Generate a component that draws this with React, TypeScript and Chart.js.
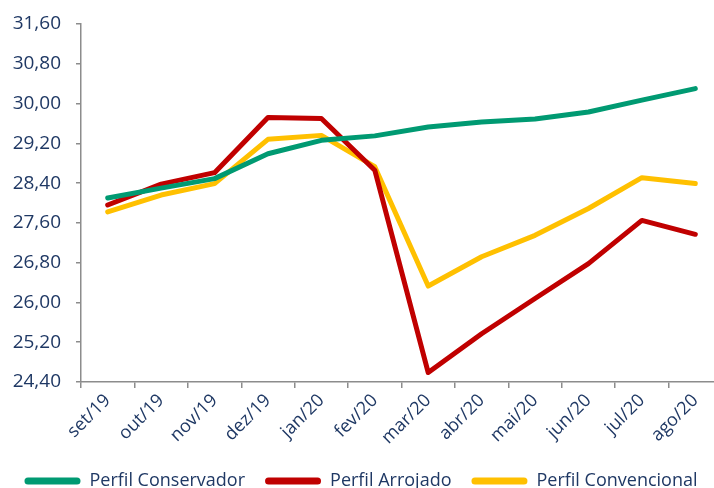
import React, { useEffect, useRef } from "react";
import { Chart, registerables } from "chart.js";

Chart.register(...registerables);

const categories = ["set/19", "out/19", "nov/19", "dez/19", "jan/20", "fev/20", "mar/20", "abr/20", "mai/20", "jun/20", "jul/20", "ago/20"];
const conservador = [28.10, 28.30, 28.49, 28.99, 29.26, 29.35, 29.53, 29.63, 29.69, 29.83, 30.07, 30.30];
const arrojado = [27.96, 28.38, 28.61, 29.72, 29.70, 28.66, 24.59, 25.37, 26.08, 26.78, 27.65, 27.37];
const convencional = [27.82, 28.16, 28.39, 29.28, 29.36, 28.73, 26.33, 26.92, 27.35, 27.89, 28.51, 28.39];
const seriesNames = ["Perfil Conservador", "Perfil Arrojado", "Perfil Convencional"];
const yMin = 24.4;
const yMax = 31.6;
const yStep = 0.8;

const GREEN = "#009A72";
const RED = "#C00000";
const YELLOW = "#FFC000";
const TEXT = "#1F3864";
const AXIS = "#8C8C8C";
const FONT = "'Open Sans', 'Noto Sans', sans-serif";

export default function App() {
  const ref = useRef<HTMLCanvasElement | null>(null);
  useEffect(() => {
    document.body.style.margin = "0";
    document.body.style.overflow = "hidden";
    const ctx = ref.current!;
    const mk = (label: string, data: number[], color: string) => ({
      label,
      data,
      borderColor: color,
      backgroundColor: color,
      borderWidth: 5,
      pointRadius: 0,
      tension: 0,
      borderCapStyle: "round" as const,
      borderJoinStyle: "round" as const,
    });
    const chart = new Chart(ctx, {
      type: "line",
      data: {
        labels: categories,
        datasets: [
          mk(seriesNames[0], conservador, GREEN),
          mk(seriesNames[1], arrojado, RED),
          mk(seriesNames[2], convencional, YELLOW),
        ],
      },
      options: {
        animation: false,
        responsive: false,
        maintainAspectRatio: false,
        layout: { padding: { top: 24, left: 0, right: 0, bottom: -12 } },
        plugins: {
          tooltip: { enabled: false },
          legend: {
            position: "bottom",
            labels: {
              boxWidth: 56,
              boxHeight: 7,
              useBorderRadius: true,
              borderRadius: 3.5,
              padding: 20,
              color: TEXT,
              font: { family: FONT, size: 18 },
              generateLabels: (c: any) =>
                c.data.datasets.map((d: any, i: number) => ({
                  text: d.label,
                  fillStyle: d.borderColor,
                  strokeStyle: d.borderColor,
                  lineWidth: 0,
                  fontColor: TEXT,
                  hidden: false,
                  datasetIndex: i,
                  borderRadius: 3.5,
                })),
            },
          },
        },
        scales: {
          x: {
            offset: true,
            grid: { offset: true, drawOnChartArea: false, drawTicks: true, tickLength: 6, color: AXIS, lineWidth: 1.5 },
            border: { color: AXIS, width: 1.5 },
            ticks: {
              color: TEXT,
              font: { family: FONT, size: 18 },
              maxRotation: 45,
              minRotation: 45,
              padding: 2,
              autoSkip: false,
            },
            afterFit: (s: any) => {
              s.height = 70;
            },
          },
          y: {
            min: yMin,
            max: yMax,
            grid: { drawOnChartArea: false, drawTicks: true, tickLength: 5, color: AXIS, lineWidth: 1.5 },
            border: { color: AXIS, width: 1.5 },
            ticks: {
              stepSize: yStep,
              color: TEXT,
              font: { family: FONT, size: 19 },
              padding: 15,
              callback: (v: any) => Number(v).toFixed(2).replace(".", ","),
            },
            afterFit: (s: any) => {
              s.width = 81;
              s.paddingTop = 0;
              s.paddingBottom = 0;
            },
          },
        },
      },
    });
    return () => chart.destroy();
  }, []);
  return (
    <div style={{ position: "fixed", left: 0, top: 0, width: 722, height: 488 }}>
      <canvas ref={ref} width={722} height={488} style={{ display: "block" }} />
    </div>
  );
}
